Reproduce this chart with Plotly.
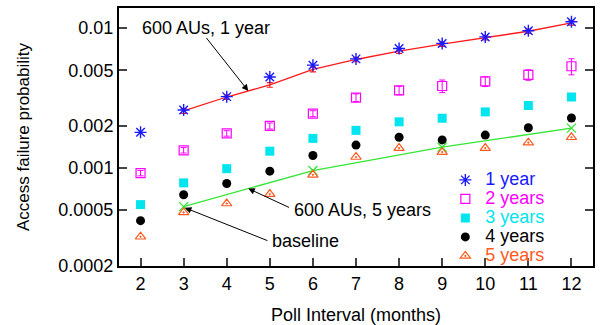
import math
import plotly.graph_objects as go

# ---------------- data ----------------
months = [2, 3, 4, 5, 6, 7, 8, 9, 10, 11, 12]
y_1year = [0.0018, 0.0026, 0.00324, 0.00448, 0.00544, 0.00603, 0.00716, 0.00778, 0.00866, 0.00959, 0.0111]
y_2years = [0.00092, 0.00134, 0.00177, 0.0020, 0.00245, 0.00319, 0.00359, 0.00386, 0.00416, 0.00464, 0.00534]
err_2years = [0.00004, 0.00006, 0.00008, 0.0001, 0.00012, 0.0002, 0.00025, 0.0004, 0.00033, 0.0004, 0.0007]
y_3years = [0.000548, 0.000784, 0.00099, 0.00132, 0.00163, 0.00186, 0.00214, 0.00227, 0.00252, 0.0028, 0.00322]
y_4years = [0.000421, 0.000644, 0.000775, 0.00095, 0.00123, 0.00146, 0.00166, 0.00159, 0.00172, 0.00194, 0.00228]
y_5years = [0.000323, 0.000482, 0.000558, 0.000652, 0.000895, 0.0012, 0.00139, 0.0013, 0.00139, 0.00152, 0.00166]

months_600_1y = [3, 4, 5, 6, 7, 8, 9, 10, 11, 12]
y_600_1y = [0.00256, 0.00322, 0.00393, 0.00507, 0.00597, 0.00686, 0.0077, 0.00854, 0.0095, 0.0109]
err_600_1y = [0.0001, 0.00012, 0.00015, 0.0002, 0.00022, 0.00025, 0.00028, 0.0003, 0.00033, 0.0004]

months_600_5y = [3, 6, 9, 12]
y_600_5y = [0.00053, 0.00096, 0.00141, 0.00193]

y_tick_vals = [0.0002, 0.0005, 0.001, 0.002, 0.005, 0.01]
y_tick_text = ["0.0002", "0.0005", "0.001", "0.002", "0.005", "0.01"]
x_tick_vals = [2, 3, 4, 5, 6, 7, 8, 9, 10, 11, 12]

C_BLUE = "#1a1aff"
C_MAG = "#ff00ff"
C_CYAN = "#00e5ee"
C_BLACK = "#000000"
C_ORANGE = "#ff5a1f"
C_RED = "#ff1a1a"
C_GREEN = "#33e633"

FONT = "Liberation Sans, Arial, Helvetica, sans-serif"

def lbl(text, color):
    return f'<span style="color:{color};font-size:18px">{text}</span>'

fig = go.Figure()

# baseline comparison lines
fig.add_trace(go.Scatter(
    x=months_600_1y, y=y_600_1y, mode="lines", showlegend=False,
    line=dict(color=C_RED, width=1.3),
    error_y=dict(type="data", array=err_600_1y, color=C_RED, thickness=1.2, width=3),
))
fig.add_trace(go.Scatter(
    x=months_600_5y, y=y_600_5y, mode="lines+markers", showlegend=False,
    line=dict(color=C_GREEN, width=1.3),
    marker=dict(symbol="x-thin-open", size=9, line=dict(color=C_GREEN, width=1.3)),
))

fig.add_trace(go.Scatter(
    x=months, y=y_1year, mode="markers", name=lbl("1 year", C_BLUE),
    marker=dict(symbol="asterisk-open", size=10, color=C_BLUE, line=dict(color=C_BLUE, width=1.4)),
))
fig.add_trace(go.Scatter(
    x=months, y=y_2years, mode="markers", name=lbl("2 years", C_MAG),
    marker=dict(symbol="square-open", size=9, color=C_MAG, line=dict(color=C_MAG, width=1.2)),
    error_y=dict(type="data", array=err_2years, color=C_MAG, thickness=1, width=3),
))
fig.add_trace(go.Scatter(
    x=months, y=y_3years, mode="markers", name=lbl("3 years", C_CYAN),
    marker=dict(symbol="square", size=9, color=C_CYAN),
))
fig.add_trace(go.Scatter(
    x=months, y=y_4years, mode="markers", name=lbl("4 years", C_BLACK),
    marker=dict(symbol="circle", size=9, color=C_BLACK),
))
fig.add_trace(go.Scatter(
    x=months, y=y_5years, mode="markers", name=lbl("5 years", C_ORANGE),
    marker=dict(symbol="triangle-up-open-dot", size=9, color=C_ORANGE, line=dict(color=C_ORANGE, width=1.2)),
))

L = math.log10
ann_font = dict(family=FONT, size=18, color="black")
annotations = [
    dict(x=1.99, y=L(0.01), xref="x", yref="y", text="600 AUs, 1 year", showarrow=False,
         xanchor="left", yanchor="middle", font=ann_font),
    dict(x=4.5, y=L(0.003556), ax=3.5, ay=L(0.00873), xref="x", yref="y", axref="x", ayref="y",
         text="", showarrow=True, arrowhead=2, arrowsize=1.3, arrowwidth=1, arrowcolor="black",
         standoff=0, startstandoff=0),
    dict(x=5.51, y=L(0.0005), xref="x", yref="y", text="600 AUs, 5 years", showarrow=False,
         xanchor="left", yanchor="middle", font=ann_font),
    dict(x=4.5, y=L(0.000714), ax=5.48, ay=L(0.000517), xref="x", yref="y", axref="x", ayref="y",
         text="", showarrow=True, arrowhead=2, arrowsize=1.3, arrowwidth=1, arrowcolor="black",
         standoff=0, startstandoff=0),
    dict(x=5.0, y=L(0.0003), xref="x", yref="y", text="baseline", showarrow=False,
         xanchor="left", yanchor="middle", font=ann_font),
    dict(x=3.03, y=L(0.00052), ax=4.98, ay=L(0.0003), xref="x", yref="y", axref="x", ayref="y",
         text="", showarrow=True, arrowhead=2, arrowsize=1.3, arrowwidth=1, arrowcolor="black",
         standoff=0, startstandoff=0),
]

fig.update_layout(
    width=601, height=325,
    margin=dict(l=119, r=8, t=8, b=59, autoexpand=False),
    paper_bgcolor="white", plot_bgcolor="white",
    font=dict(family=FONT, size=18, color="black"),
    annotations=annotations,
    legend=dict(
        x=0.91, y=0.39, xanchor="right", yanchor="top",
        bgcolor="rgba(0,0,0,0)", font=dict(size=12),
        tracegroupgap=0, itemwidth=30,
    ),
)
fig.update_xaxes(
    range=[1.5, 12.5], tickvals=x_tick_vals, ticks="inside", ticklen=8, tickwidth=1.5,
    showline=True, linecolor="black", linewidth=2, mirror=True, showgrid=False, zeroline=False,
    ticklabelstandoff=0, automargin=False,
    title=dict(text="Poll Interval (months)", standoff=17, font=dict(size=18)),
)
fig.update_yaxes(
    type="log", range=[-3.700, -1.856], tickvals=y_tick_vals, ticktext=y_tick_text,
    ticks="inside", ticklen=8, tickwidth=1.5,
    showline=True, linecolor="black", linewidth=2, mirror="ticks", showgrid=False, zeroline=False,
    ticklabelstandoff=0, automargin=False,
    title=dict(text="Access failure probability", standoff=24, font=dict(size=17)),
)

fig.write_html("out.html", config={"displayModeBar": False},
               post_script="document.body.style.margin='0';")
